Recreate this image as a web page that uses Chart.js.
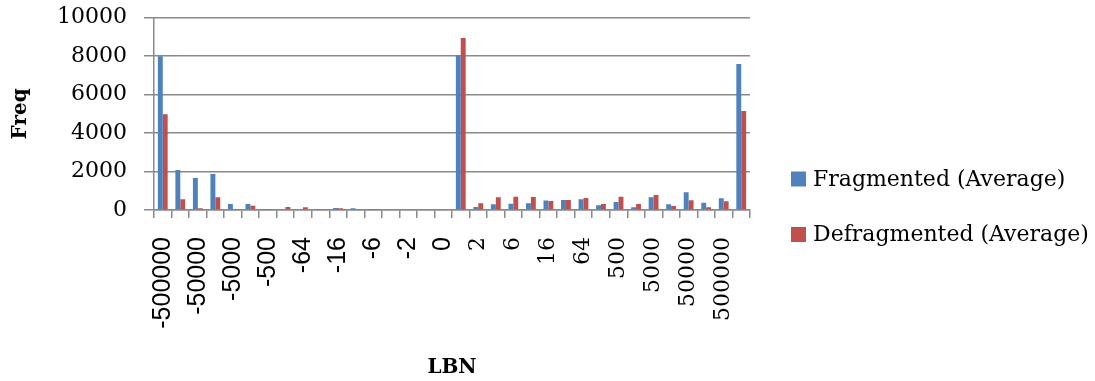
<!DOCTYPE html>
<html>
<head>
<meta charset="utf-8">
<script src="https://cdn.jsdelivr.net/npm/chart.js@4.4.1/dist/chart.umd.min.js"></script>
<style>
  html, body { margin: 0; padding: 0; background: #ffffff; }
  #wrap { width: 1095px; height: 381px; }
</style>
</head>
<body>
<div id="wrap"><canvas id="c" width="1095" height="381"></canvas></div>
<script>
const categories = ['-500000','-100000','-50000','-10000','-5000','-1000','-500','-100','-64','-32','-16','-8','-6','-4','-2','-1','0','1','2','4','6','8','16','32','64','100','500','1000','5000','10000','50000','100000','500000','1000000'];
const fragmented = [8000,2080,1660,1870,310,310,15,0,35,17,100,85,10,0,0,0,0,8050,150,295,330,345,500,520,555,245,415,140,660,295,920,380,605,7590];
const defragmented = [4980,555,85,660,50,225,50,155,140,35,85,50,10,0,0,0,0,8950,345,660,695,675,470,520,625,310,695,310,780,210,505,140,450,5150];
const seriesNames = ['Fragmented (Average)', 'Defragmented (Average)'];
const seriesColors = ['#4F81BD', '#C0504D'];
const yTicks = [0, 2000, 4000, 6000, 8000, 10000];

const GRID = '#8a8a8a';
const SERIF = '"DejaVu Serif", serif';
const SANS = '"Liberation Sans", Arial, sans-serif';

// horizontal value gridlines, positioned through the chart's own y scale
const gridPlugin = {
  id: 'valueGrid',
  beforeDatasetsDraw(chart) {
    const ctx = chart.ctx, area = chart.chartArea, ys = chart.scales.y;
    ctx.save();
    ctx.strokeStyle = GRID;
    ctx.lineWidth = 1.5;
    yTicks.forEach(v => {
      const p = Math.round(ys.getPixelForValue(v) - 0.75) + 0.75;
      ctx.beginPath();
      ctx.moveTo(area.left, p);
      ctx.lineTo(area.right, p);
      ctx.stroke();
    });
    ctx.restore();
  }
};

const legendPlugin = {
  id: 'sideLegend',
  afterDraw(chart) {
    const ctx = chart.ctx;
    ctx.save();
    ctx.font = '22px ' + SERIF;
    ctx.textBaseline = 'middle';
    ctx.textAlign = 'left';
    const rows = [179, 234.5];
    chart.data.datasets.forEach((ds, i) => {
      ctx.fillStyle = ds.backgroundColor;
      ctx.fillRect(791, rows[i] - 7.5, 15, 15);
      ctx.fillStyle = '#000';
      ctx.fillText(ds.label, 813, rows[i] + 1);
    });
    ctx.restore();
  }
};

new Chart(document.getElementById('c'), {
  type: 'bar',
  data: {
    labels: categories,
    datasets: [
      { label: seriesNames[0], data: fragmented, backgroundColor: seriesColors[0], categoryPercentage: 0.56, barPercentage: 1.0 },
      { label: seriesNames[1], data: defragmented, backgroundColor: seriesColors[1], categoryPercentage: 0.56, barPercentage: 1.0 }
    ]
  },
  options: {
    responsive: false,
    animation: false,
    devicePixelRatio: 1,
    layout: { padding: { left: 0, right: 345, top: 17.7, bottom: 0 } },
    plugins: { legend: { display: false }, tooltip: { enabled: false } },
    scales: {
      x: {
        grid: { drawOnChartArea: false, drawTicks: true, tickLength: 8, color: GRID, lineWidth: 1.5 },
        border: { display: true, color: GRID, width: 1.5 },
        ticks: {
          autoSkip: false,
          minRotation: 90,
          maxRotation: 90,
          padding: 19,
          color: '#000',
          font: (c) => ({ family: c.index <= 16 ? SANS : SERIF, size: c.index <= 16 ? 25 : 22 }),
          callback: function(value, index) { return index % 2 === 0 ? categories[index] : ''; }
        },
        title: { display: true, text: 'LBN', color: '#000', font: { family: SERIF, size: 20, weight: 'bold' }, padding: { top: 0, bottom: 1 } },
        afterFit: (s) => { s.height = 171; }
      },
      y: {
        min: yTicks[0],
        max: yTicks[yTicks.length - 1],
        grid: { drawOnChartArea: false, drawTicks: true, color: GRID, lineWidth: 1.5, tickLength: 10 },
        border: { display: true, color: GRID, width: 1.5 },
        ticks: {
          stepSize: yTicks[1] - yTicks[0],
          padding: 17,
          color: '#000',
          font: { family: SERIF, size: 22 },
          callback: (v) => String(v)
        },
        title: { display: true, text: 'Freq', color: '#000', font: { family: SERIF, size: 20, weight: 'bold' }, padding: { top: 9, bottom: 0 } },
        afterFit: (s) => { s.width = 154; s.paddingTop = 0; s.paddingBottom = 0; }
      }
    }
  },
  plugins: [gridPlugin, legendPlugin]
});
</script>
</body>
</html>
